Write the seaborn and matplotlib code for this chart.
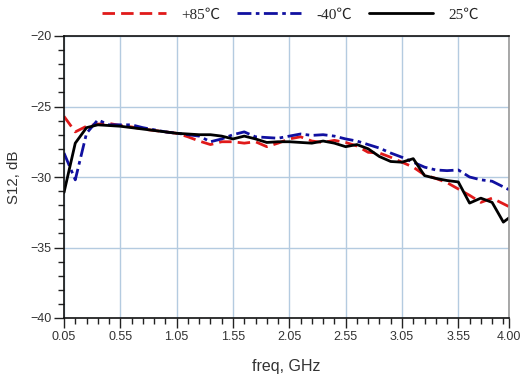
import numpy as np
import pandas as pd
import matplotlib
matplotlib.use("Agg")
import matplotlib.pyplot as plt
from matplotlib.ticker import FixedLocator, MultipleLocator
import seaborn as sns

freq = [0.05, 0.15, 0.25, 0.35, 0.45, 0.55, 0.65, 0.75, 0.85, 0.95,
        1.05, 1.15, 1.25, 1.35, 1.45, 1.55, 1.65, 1.75, 1.85, 1.95,
        2.05, 2.15, 2.25, 2.35, 2.45, 2.55, 2.65, 2.75, 2.85, 2.95,
        3.05, 3.15, 3.25, 3.35, 3.45, 3.55, 3.65, 3.75, 3.85, 3.95, 4.00]

s12_p85 = [-25.7, -26.8, -26.4, -26.25, -26.2, -26.35, -26.45, -26.6, -26.7, -26.8,
           -26.9, -27.15, -27.45, -27.7, -27.5, -27.5, -27.6, -27.5, -27.85, -27.6,
           -27.3, -27.15, -27.45, -27.55, -27.4, -27.55, -27.8, -28.25, -28.3, -28.6,
           -28.95, -29.3, -29.85, -30.1, -30.4, -30.85, -31.3, -31.8, -31.5, -31.9, -32.1]

s12_m40 = [-28.3, -30.2, -26.9, -25.95, -26.3, -26.3, -26.3, -26.5, -26.65, -26.8,
           -26.9, -27.0, -27.1, -27.5, -27.3, -27.0, -26.8, -27.15, -27.2, -27.25,
           -27.1, -26.95, -27.05, -27.0, -27.1, -27.3, -27.45, -27.7, -27.95, -28.3,
           -28.6, -28.95, -29.3, -29.5, -29.55, -29.5, -30.0, -30.2, -30.3, -30.7, -30.9]

s12_25 = [-31.1, -27.6, -26.5, -26.3, -26.35, -26.4, -26.5, -26.6, -26.7, -26.8,
          -26.9, -26.95, -27.0, -27.0, -27.1, -27.3, -27.1, -27.3, -27.55, -27.5,
          -27.5, -27.55, -27.6, -27.45, -27.6, -27.85, -27.7, -28.0, -28.55, -28.9,
          -28.95, -28.7, -29.9, -30.1, -30.25, -30.35, -31.85, -31.5, -31.8, -33.2, -32.9]

series_labels = ["+85℃", "-40℃", "25℃"]
x_ticks = [0.05, 0.55, 1.05, 1.55, 2.05, 2.55, 3.05, 3.55, 4.00]
x_tick_labels = ["0.05", "0.55", "1.05", "1.55", "2.05", "2.55", "3.05", "3.55", "4.00"]
y_ticks = [-40, -35, -30, -25, -20]

sns.set_style("white")
plt.rcParams["font.family"] = ["Liberation Sans", "DejaVu Sans"]

fig = plt.figure(figsize=(5.23, 3.8), dpi=100)
ax = fig.add_axes([64/523, 1-318/380, (509-64)/523, (318-36)/380])

styles = [
    dict(color="#e01a1a", dashes=(4.5, 2.2)),
    dict(color="#1010a0", dashes=(5, 1.6, 1.3, 1.6)),
    dict(color="#000000", dashes=None),
]
for vals, lab, st in zip([s12_p85, s12_m40, s12_25], series_labels, styles):
    df = pd.DataFrame({"freq": freq, "S12": vals})
    sns.lineplot(data=df, x="freq", y="S12", ax=ax, color=st["color"],
                 linewidth=2.0, label=lab, legend=False)
    line = ax.lines[-1]
    if st["dashes"] is not None:
        line.set_dashes(st["dashes"])

ax.set_xlim(0.05, 4.0)
ax.set_ylim(-40, -20)
ax.xaxis.set_major_locator(FixedLocator(x_ticks))
ax.set_xticklabels(x_tick_labels)
ax.xaxis.set_minor_locator(FixedLocator([round(0.05 + 0.1*i, 2) for i in range(1, 40)]))
ax.yaxis.set_major_locator(FixedLocator(y_ticks))
ax.yaxis.set_minor_locator(MultipleLocator(1))

ax.grid(True, which="major", color="#b4cbe0", linewidth=1.0)
ax.tick_params(which="major", direction="out", length=7, width=1, color="#222222",
               labelsize=9, labelcolor="#333333", bottom=True, left=True, pad=2)
ax.tick_params(which="minor", direction="out", length=4, width=1, color="#222222",
               bottom=True, left=True)

for side in ["left", "bottom", "top"]:
    ax.spines[side].set_color("#111111")
    ax.spines[side].set_linewidth(1.2)
ax.spines["right"].set_color("#999999")
ax.spines["right"].set_linewidth(1.2)

ax.set_xlabel("freq, GHz", fontsize=11.5, color="#333333", labelpad=12)
ax.set_ylabel("S12, dB", fontsize=10.8, color="#333333", labelpad=7)

handles, labels = ax.get_legend_handles_labels()
fig.legend(handles, labels, loc="upper center", bbox_to_anchor=(0.555, 1.015), ncol=3,
           frameon=False, handlelength=4.2, columnspacing=1.1, handletextpad=1.0,
           prop=dict(family=["Liberation Serif", "Noto Sans CJK SC"], size=11))

fig.savefig("out.png", dpi=100)
